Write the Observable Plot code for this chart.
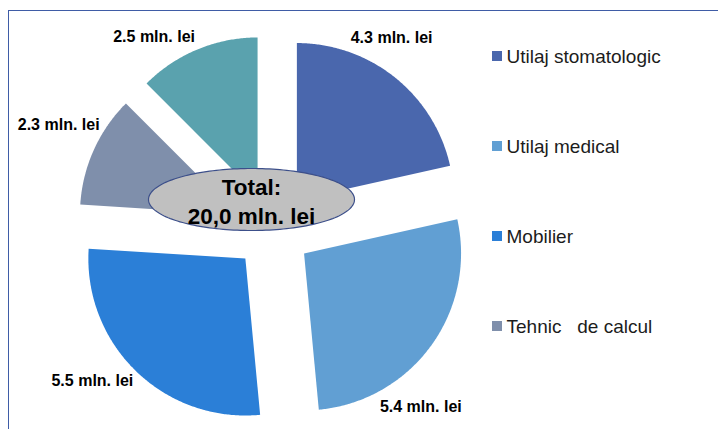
<!DOCTYPE html>
<html>
<head>
<meta charset="utf-8">
<script src="https://cdn.jsdelivr.net/npm/d3@7"></script>
<script src="https://cdn.jsdelivr.net/npm/@observablehq/plot@0.6"></script>
<style>
  html, body { margin: 0; padding: 0; background: #fff; }
  #chart { position: relative; width: 718px; height: 429px; overflow: hidden; }
  #frame { position: absolute; left: 8px; top: 10px; width: 760px; height: 460px;
           border-top: 1.5px solid #3f5ca6; border-left: 1.5px solid #3f5ca6; box-sizing: border-box; }
  #chart svg { position: absolute; left: 0; top: 0; }
  svg text { white-space: pre; }
  g[aria-label="slice-labels"] text { letter-spacing: -0.9px; }
</style>
</head>
<body>
<div id="chart"><div id="frame"></div></div>
<script>
// Equipment spending by group, million lei
const categories = ["Utilaj stomatologic", "Utilaj medical", "Mobilier", "Tehnic   de calcul", "Alte bunuri"];
const values = [4.3, 5.4, 5.5, 2.3, 2.5];
const colors = ["#4a67ad", "#619fd3", "#2b7fd7", "#7f8fab", "#5aa2ae"];
const unit = "mln. lei";

// Layout (pixel space of the 718x429 drawing)
const W = 718, H = 429;
const cx = 272, cy = 230;      // pie centre
const R = 157;                 // slice radius
const explode = 39;            // distance each slice is pulled out
const labelNudgeDeg = [-7, 14, 6, 2, -9];   // label angle tweaks so they clear each other
const ell = {x: 251, y: 199, rx: 103, ry: 31};

const pie = d3.pie().sort(null).value(d => d)(values);
const dir = a => [Math.sin(a), -Math.cos(a)];

// Slice polygons: apex + arc samples, each offset along its mid-angle
const slicePts = [];
pie.forEach((p, i) => {
  const mid = (p.startAngle + p.endAngle) / 2;
  const [ux, uy] = dir(mid);
  const ox = cx + explode * ux, oy = cy + explode * uy;
  slicePts.push({cat: categories[i], x: ox, y: oy});
  const n = Math.max(2, Math.ceil((p.endAngle - p.startAngle) / (Math.PI / 360)));
  for (let k = 0; k <= n; ++k) {
    const a = p.startAngle + (p.endAngle - p.startAngle) * k / n;
    const [dx, dy] = dir(a);
    slicePts.push({cat: categories[i], x: ox + R * dx, y: oy + R * dy});
  }
});

// Value labels placed just outside each slice
const halfW = 39.5, halfH = 7;
const labelData = pie.map((p, i) => {
  const a = (p.startAngle + p.endAngle) / 2 + labelNudgeDeg[i] * Math.PI / 180;
  const [ux, uy] = dir(a);
  const dist = R + explode + 4 + halfW * Math.abs(ux) + halfH * Math.abs(uy);
  return {text: `${values[i].toFixed(1)} ${unit}`, x: cx + dist * ux, y: cy + dist * uy};
});

// Centre ellipse with the total
const ellPts = d3.range(0, 361, 2).map(t => {
  const a = t * Math.PI / 180;
  return {x: ell.x + ell.rx * Math.cos(a), y: ell.y + ell.ry * Math.sin(a)};
});
const totalText = `Total:\n${d3.sum(values).toFixed(1).replace(".", ",")} ${unit}`;

// Legend lists the four named equipment groups
const legend = categories.slice(0, 4).map((c, i) => ({cat: c, y: 56 + 90 * i}));

const font = "'Liberation Sans', Arial, sans-serif";

const chart = Plot.plot({
  width: W, height: H, margin: 0,
  style: {background: "transparent", fontFamily: font, overflow: "visible"},
  x: {domain: [0, W], range: [0, W], axis: null},
  y: {domain: [0, H], range: [0, H], axis: null},
  color: {domain: categories, range: colors},
  marks: [
    Plot.line(slicePts, {x: "x", y: "y", z: "cat", fill: "cat", stroke: "none", curve: "linear-closed"}),
    Plot.line(ellPts, {x: "x", y: "y", fill: "#c0c0c0", stroke: "#3c4f8a", strokeWidth: 1.2, curve: "linear-closed"}),
    Plot.text([totalText], {x: () => ell.x, y: () => ell.y + 1, text: d => d, fontSize: 22.5, fontWeight: "bold",
      lineHeight: 1.25, fill: "#000", fontFamily: font}),
    Plot.text(labelData, {x: "x", y: "y", text: "text", fontSize: 16, fontWeight: "bold", fill: "#000",
      fontFamily: font, ariaLabel: "slice-labels"}),
    Plot.rect(legend, {x1: () => 492, x2: () => 502, y1: d => d.y - 5, y2: d => d.y + 5, fill: "cat"}),
    Plot.text(legend, {x: () => 506, y: "y", text: "cat", textAnchor: "start", fontSize: 19,
      fill: "#1c1c1c", fontFamily: font})
  ]
});
document.getElementById("chart").appendChild(chart);
</script>
</body>
</html>
